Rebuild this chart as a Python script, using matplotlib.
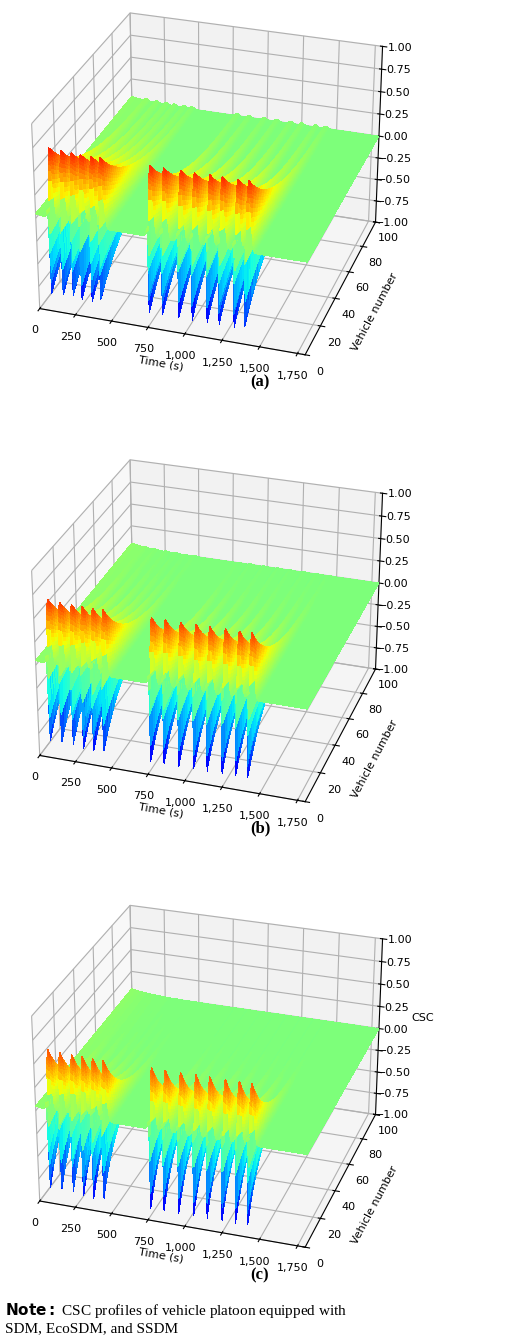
import numpy as np
import matplotlib.pyplot as plt
from matplotlib.ticker import FuncFormatter

# disturbance times (s) read from the spikes, per model
events_a = [90, 170, 240, 300, 370, 430, 760, 850, 960, 1050, 1150, 1230, 1330, 1400]
events_b = [80, 160, 240, 310, 380, 450, 770, 860, 960, 1060, 1150, 1250, 1340, 1420]
events_c = [80, 160, 240, 310, 380, 450, 770, 860, 960, 1060, 1150, 1250, 1340, 1420]
peaks = [0.75, 0.7, 0.65]               # red peak height per model
decays = [30.0, 22.0, 15.0]             # how fast CSC fades along the platoon
labels = ["(a)", "(b)", "(c)"]

time = np.linspace(0, 1800, 1100)
vehicle = np.linspace(0, 100, 50)


def csc_surface(events, peak, decay):
    T, N = np.meshgrid(time, vehicle)
    Z = np.zeros_like(T)
    for tk in events:
        d = T - tk
        Z += -1.1 * np.exp(-(d / 4.0) ** 2)
        Z += peak * np.exp(-(d - 20) ** 2 / (2 * 14.0 ** 2))
    Z = np.clip(Z, -1, peak)
    Z = Z * np.exp(-N / decay) + 0.05 * np.exp(-T / 150)
    return T, N, Z


fig = plt.figure(figsize=(5.2, 13.42), dpi=100)
boxes = [[-0.2, 0.715, 1.2, 0.30], [-0.2, 0.382, 1.2, 0.30], [-0.2, 0.05, 1.2, 0.30]]
label_y = [0.712, 0.38, 0.047]
comma = FuncFormatter(lambda v, p: f"{int(v):,}")

for i, events in enumerate([events_a, events_b, events_c]):
    ax = fig.add_axes(boxes[i], projection="3d")
    T, N, Z = csc_surface(events, peaks[i], decays[i])
    ax.plot_surface(T, N, Z, cmap="jet", vmin=-1, vmax=1, rstride=1, cstride=1,
                    linewidth=0, antialiased=False)
    ax.view_init(elev=28, azim=-72)
    ax.set_box_aspect(None, zoom=1.05)
    ax.set_zlim(-1, 1)
    ax.set_xlim(0, 1800)
    ax.set_ylim(0, 100)
    ax.set_xticks(np.arange(0, 1800, 250))
    ax.xaxis.set_major_formatter(comma)
    ax.set_yticks(np.arange(0, 101, 20))
    ax.set_zticks(np.arange(-1, 1.01, 0.25))
    ax.tick_params(labelsize=8, pad=0)
    ax.set_xlabel("Time (s)", fontsize=8, labelpad=-6)
    ax.set_ylabel("Vehicle number", fontsize=8, labelpad=-2)
    if i == 2:
        ax.set_zlabel("CSC", fontsize=8, labelpad=0)
    fig.text(0.5, label_y[i], labels[i], ha="center", fontsize=12,
             fontweight="bold", family="Liberation Serif")

fig.text(0.01, 0.005, "$\\bf{Note:}$ CSC profiles of vehicle platoon equipped with\nSDM, EcoSDM, and SSDM",
         fontsize=11, family="Liberation Serif", va="bottom")
fig.savefig("out.png", dpi=100)
